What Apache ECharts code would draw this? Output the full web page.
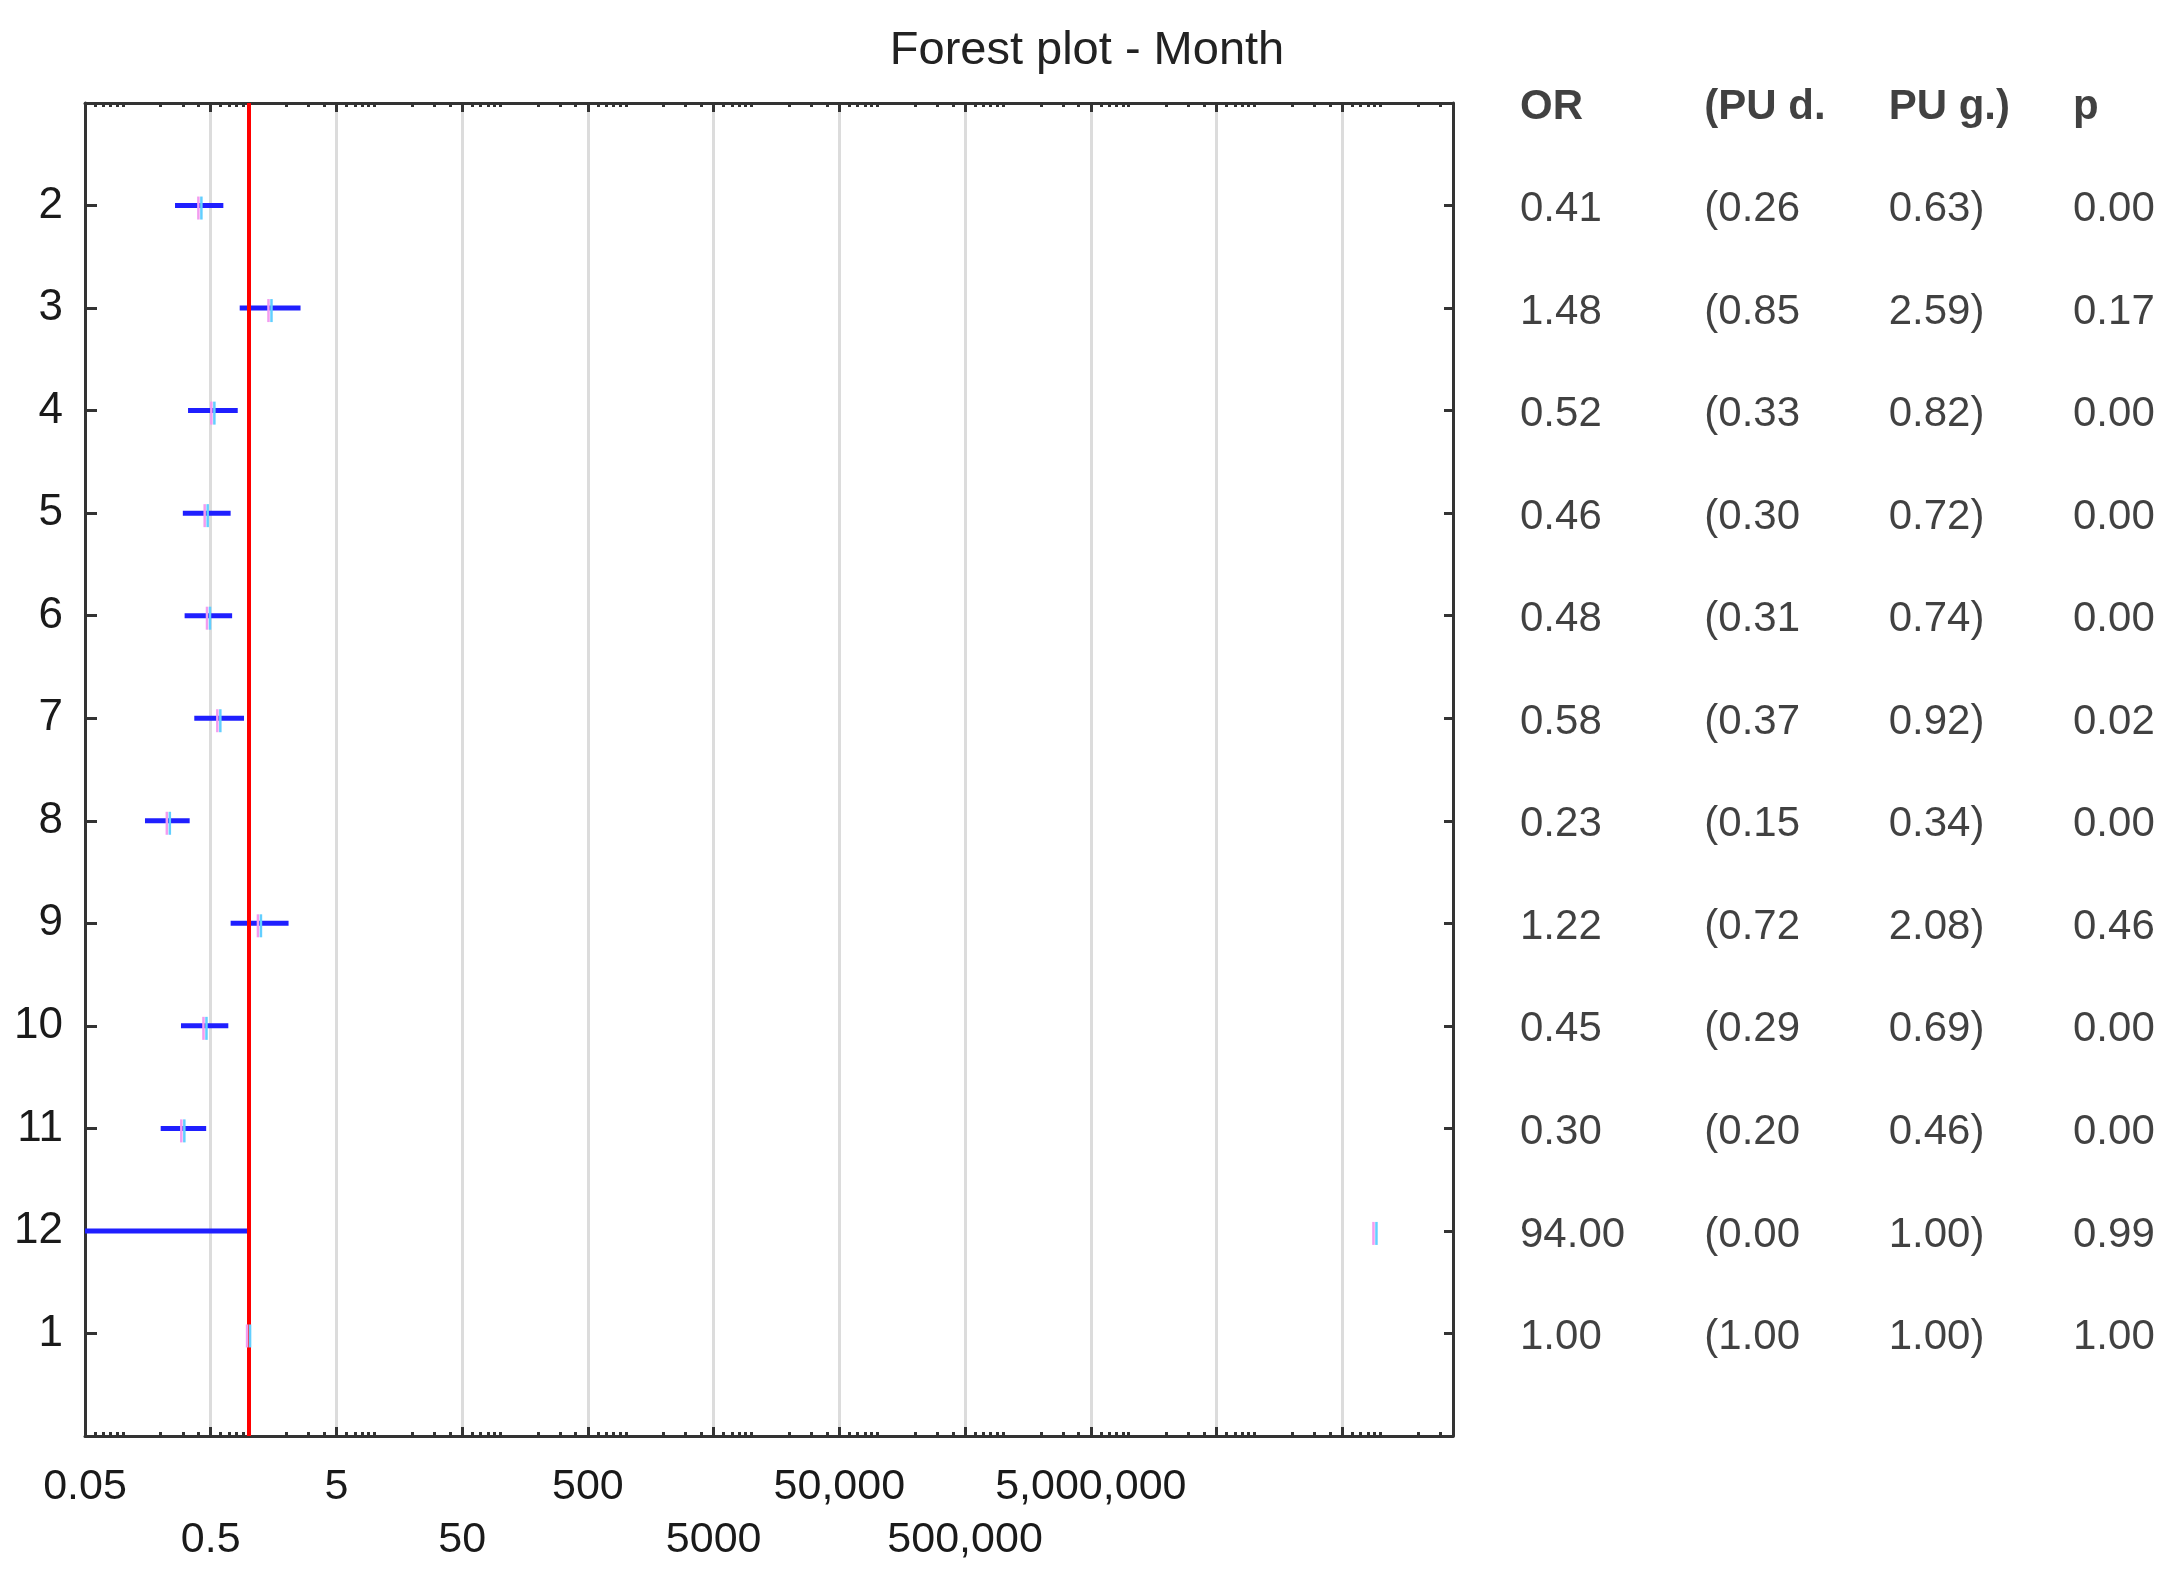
<!DOCTYPE html>
<html>
<head>
<meta charset="utf-8">
<title>Forest plot - Month</title>
<script src="https://cdn.jsdelivr.net/npm/echarts@6.0.0/dist/echarts.min.js"></script>
<style>
  html, body { margin: 0; padding: 0; background: #fff; }
  #chart { width: 2182px; height: 1578px; }
</style>
</head>
<body>
<div id="chart"></div>
<script>
// rows, top to bottom
var months = ["2", "3", "4", "5", "6", "7", "8", "9", "10", "11", "12", "1"];
var orValues = [0.41, 1.48, 0.52, 0.46, 0.48, 0.58, 0.23, 1.22, 0.45, 0.30, 94.00, 1.00];
var ciLow = [0.26, 0.85, 0.33, 0.30, 0.31, 0.37, 0.15, 0.72, 0.29, 0.20, 0.00, 1.00];
var ciHigh = [0.63, 2.59, 0.82, 0.72, 0.74, 0.92, 0.34, 2.08, 0.69, 0.46, 1.00, 1.00];
var pValues = [0.00, 0.17, 0.00, 0.00, 0.00, 0.02, 0.00, 0.46, 0.00, 0.00, 0.99, 1.00];
// where the OR marker sits in the plot (month 12 is drawn far to the right)
var orMarker = [0.41, 1.48, 0.52, 0.46, 0.48, 0.58, 0.23, 1.22, 0.45, 0.30, 9.1e8, 1.00];
var tableHeader = ["OR", "(PU d.", "PU g.)", "p"];
var xTickValues = [0.05, 0.5, 5, 50, 500, 5000, 50000, 500000, 5000000, 50000000, 500000000];
var xTickLabels = ["0.05", "0.5", "5", "50", "500", "5000", "50,000", "500,000", "5,000,000"];

var X_MIN = 0.05;
var X_MAX = 3.8e9;
var FONT = "'Liberation Sans', Arial, sans-serif";

// log minor ticks (1..9 x 10^k, majors at 5 x 10^k)
var minorTicks = [];
for (var k = -2; k <= 9; k++) {
  for (var m = 1; m <= 9; m++) {
    if (m === 5) continue;
    var v = +(m * Math.pow(10, k)).toPrecision(4);
    if (v > X_MIN && v < X_MAX) minorTicks.push(v);
  }
}
var rowIdx = months.map(function (d, i) { return i + 1; });
// labels alternate between an upper and a lower row
var upperLabelVals = xTickValues.filter(function (v, i) { return i < xTickLabels.length && i % 2 === 0; });
var lowerLabelVals = xTickValues.filter(function (v, i) { return i < xTickLabels.length && i % 2 === 1; });

var chart = echarts.init(document.getElementById("chart"));

var gridBox = { left: 85, right: 729, top: 103, bottom: 142, outerBoundsMode: "none" };
var axisColor = "#333";

function xLabel(val) {
  for (var i = 0; i < xTickLabels.length; i++) {
    if (Math.abs(Math.log10(val / xTickValues[i])) < 1e-6) return xTickLabels[i];
  }
  return "";
}

var tableData = [];
months.forEach(function (mo, i) {
  var r = i + 1;
  tableData.push([0, r, orValues[i].toFixed(2)]);
  tableData.push([1, r, "(" + ciLow[i].toFixed(2)]);
  tableData.push([2, r, ciHigh[i].toFixed(2) + ")"]);
  tableData.push([3, r, pValues[i].toFixed(2)]);
});

var labelFont = { fontFamily: FONT, fontSize: 43, color: "#1a1a1a" };

var option = {
  animation: false,
  backgroundColor: "#fff",
  title: {
    text: "Forest plot - Month",
    left: 1087,
    top: 28,
    textAlign: "center",
    padding: 0,
    textStyle: { fontFamily: FONT, fontSize: 47, fontWeight: "normal", color: "#222" }
  },
  grid: [
    Object.assign({}, gridBox),
    Object.assign({}, gridBox),
    { left: 1520, right: 109, top: 107, bottom: 138, outerBoundsMode: "none" }
  ],
  xAxis: [
    {
      type: "log", gridIndex: 0, position: "bottom", min: X_MIN, max: X_MAX,
      axisLine: { show: true, onZero: false, lineStyle: { color: axisColor, width: 3 } },
      axisTick: { show: true, inside: true, length: 9, customValues: xTickValues,
        lineStyle: { color: axisColor, width: 3 } },
      axisLabel: Object.assign({
        show: true, margin: 30, customValues: upperLabelVals, hideOverlap: false,
        formatter: xLabel
      }, labelFont),
      splitLine: { show: true, lineStyle: { color: "#dcdcdc", width: 3 } }
    },
    {
      type: "log", gridIndex: 0, position: "top", min: X_MIN, max: X_MAX,
      axisLine: { show: true, onZero: false, lineStyle: { color: axisColor, width: 3 } },
      axisTick: { show: true, inside: true, length: 9, customValues: xTickValues,
        lineStyle: { color: axisColor, width: 3 } },
      axisLabel: { show: false },
      splitLine: { show: false }
    },
    {
      type: "log", gridIndex: 1, position: "bottom", min: X_MIN, max: X_MAX,
      axisLine: { show: false, onZero: false },
      axisTick: { show: true, inside: true, length: 4, customValues: minorTicks,
        lineStyle: { color: axisColor, width: 3 } },
      axisLabel: Object.assign({
        show: true, margin: 83, customValues: lowerLabelVals, hideOverlap: false,
        formatter: xLabel
      }, labelFont),
      splitLine: { show: false }
    },
    {
      type: "log", gridIndex: 1, position: "top", min: X_MIN, max: X_MAX,
      axisLine: { show: false, onZero: false },
      axisTick: { show: true, inside: true, length: 4, customValues: minorTicks,
        lineStyle: { color: axisColor, width: 3 } },
      axisLabel: { show: false },
      splitLine: { show: false }
    },
    {
      type: "category", gridIndex: 2, data: tableHeader, boundaryGap: false, show: false
    }
  ],
  yAxis: [
    {
      type: "value", gridIndex: 0, position: "left", min: 0, max: 13, interval: 1, inverse: true,
      axisLine: { show: true, onZero: false, lineStyle: { color: axisColor, width: 3 } },
      axisTick: { show: true, inside: true, length: 12, customValues: rowIdx,
        lineStyle: { color: axisColor, width: 3 } },
      axisLabel: {
        show: true, margin: 22, customValues: rowIdx,
        fontFamily: FONT, fontSize: 44, color: "#1a1a1a",
        formatter: function (v) { return months[Math.round(v) - 1] || ""; }
      },
      splitLine: { show: false }
    },
    {
      type: "value", gridIndex: 0, position: "right", min: 0, max: 13, interval: 1, inverse: true,
      axisLine: { show: true, onZero: false, lineStyle: { color: axisColor, width: 3 } },
      axisTick: { show: true, inside: true, length: 9, customValues: rowIdx,
        lineStyle: { color: axisColor, width: 3 } },
      axisLabel: { show: false },
      splitLine: { show: false }
    },
    {
      type: "value", gridIndex: 1, min: 0, max: 13, inverse: true, show: false
    },
    {
      type: "value", gridIndex: 2, min: 0, max: 13, inverse: true, show: false
    }
  ],
  series: [
    {
      name: "CI",
      type: "custom",
      xAxisIndex: 0,
      yAxisIndex: 0,
      clip: false,
      z: 2,
      data: months.map(function (mo, i) {
        return [Math.max(ciLow[i], X_MIN), ciHigh[i], i + 1];
      }),
      encode: { x: [0, 1], y: 2 },
      renderItem: function (params, api) {
        var y = api.value(2);
        var a = api.coord([api.value(0), y]);
        var b = api.coord([api.value(1), y]);
        return { type: "line", shape: { x1: a[0], y1: a[1], x2: b[0], y2: b[1] },
          style: { stroke: "#1f1fff", lineWidth: 5 } };
      },
      markLine: {
        silent: true,
        symbol: "none",
        label: { show: false },
        lineStyle: { color: "#ff0000", width: 4, type: "solid" },
        data: [{ xAxis: 1 }]
      }
    },
    {
      name: "OR",
      type: "custom",
      xAxisIndex: 0,
      yAxisIndex: 0,
      clip: false,
      z: 8,
      data: months.map(function (mo, i) { return [orMarker[i], i + 1]; }),
      encode: { x: 0, y: 1 },
      renderItem: function (params, api) {
        var c = api.coord([api.value(0), api.value(1)]);
        return {
          type: "group",
          children: [
            { type: "line", shape: { x1: c[0] - 1.5, y1: c[1] - 9, x2: c[0] - 1.5, y2: c[1] + 14 },
              style: { stroke: "#f39cf0", lineWidth: 2.5 } },
            { type: "line", shape: { x1: c[0] + 1.5, y1: c[1] - 9, x2: c[0] + 1.5, y2: c[1] + 14 },
              style: { stroke: "#62cfff", lineWidth: 2.5 } }
          ]
        };
      }
    },
    {
      name: "header",
      type: "scatter",
      xAxisIndex: 4,
      yAxisIndex: 3,
      clip: false,
      symbolSize: 1,
      itemStyle: { color: "rgba(0,0,0,0)" },
      data: tableHeader.map(function (h, i) { return [i, 0, h]; }),
      label: {
        show: true, position: "inside", align: "left", verticalAlign: "middle",
        fontFamily: FONT, fontSize: 42, fontWeight: "bold", color: "#111",
        formatter: function (p) { return p.value[2]; }
      }
    },
    {
      name: "table",
      type: "scatter",
      xAxisIndex: 4,
      yAxisIndex: 3,
      clip: false,
      symbolSize: 1,
      itemStyle: { color: "rgba(0,0,0,0)" },
      data: tableData,
      label: {
        show: true, position: "inside", align: "left", verticalAlign: "middle",
        fontFamily: FONT, fontSize: 42, color: "#111",
        formatter: function (p) { return p.value[2]; }
      }
    }
  ]
};

chart.setOption(option);
</script>
</body>
</html>
